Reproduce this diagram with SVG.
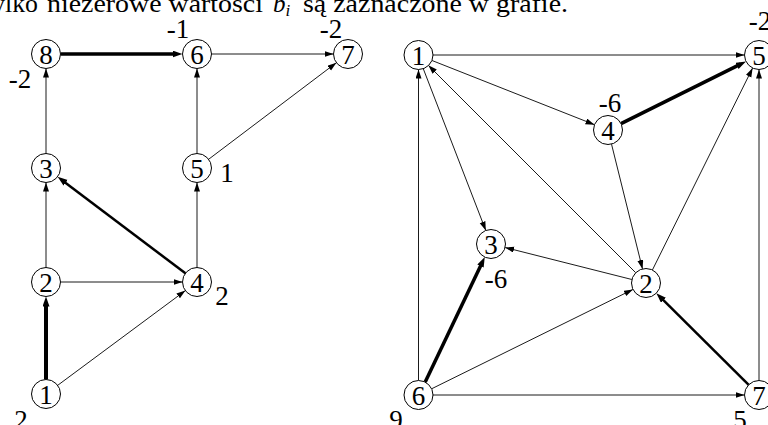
<svg xmlns="http://www.w3.org/2000/svg" width="768" height="425" viewBox="0 0 768 425">
<style>
.bg{fill:#fff}
.n circle{fill:#fff;stroke:#000;stroke-width:1}
.e{stroke:#000;stroke-width:0.9;fill:none;marker-end:url(#ah)}
.w{stroke:#000;fill:none;marker-end:url(#ahw)}
</style>
<defs>
<marker id="ah" markerUnits="userSpaceOnUse" markerWidth="10" markerHeight="7" refX="9" refY="3" orient="auto">
<path d="M0,0 L9,3 L0,6 z" fill="#000"/>
</marker>
<marker id="ahw" markerUnits="userSpaceOnUse" markerWidth="11" markerHeight="8" refX="4" refY="3.5" orient="auto">
<path d="M0,0 L10,3.5 L0,7 z" fill="#000"/>
</marker>
</defs>
<rect class="bg" x="0" y="0" width="768" height="425"/>
<g id="caption" font-family="Liberation Serif, serif" font-size="25" fill="#000">
<text x="-15" y="11.5" textLength="53" lengthAdjust="spacingAndGlyphs">tylko</text>
<text x="47" y="11.5" textLength="216" lengthAdjust="spacingAndGlyphs">niezerowe wartości</text>
<text x="273" y="11.5" font-style="italic">b<tspan font-size="17" dy="4">i</tspan></text>
<text x="303" y="11.5" textLength="265" lengthAdjust="spacingAndGlyphs">są zaznaczone w grafie.</text>
</g>
<g id="connectors">
<line class="w" stroke-width="3.5" x1="60.5" y1="54" x2="176.5" y2="54"/>
<line class="e" x1="211.5" y1="54" x2="333.5" y2="54"/>
<line class="e" stroke-width="0.8" x1="208.6" y1="159.3" x2="336.4" y2="62.7"/>
<line class="e" x1="197" y1="153.5" x2="197" y2="68.5"/>
<line class="e" x1="46" y1="153.5" x2="46" y2="68.5"/>
<line class="e" x1="197" y1="267.5" x2="197" y2="182.5"/>
<line class="w" stroke-width="2.5" x1="185.4" y1="273.3" x2="62.4" y2="180.4"/>
<line class="e" x1="46" y1="267.5" x2="46" y2="182.5"/>
<line class="e" x1="60.5" y1="282" x2="182.5" y2="282"/>
<line class="w" stroke-width="4" x1="46" y1="379.5" x2="46" y2="302.5"/>
<line class="e" stroke-width="0.8" x1="57.6" y1="385.4" x2="185.4" y2="290.6"/>

<line class="e" x1="433" y1="55" x2="744.5" y2="55"/>
<line class="e" x1="431.5" y1="60.3" x2="594.5" y2="124.7"/>
<line class="e" x1="423.2" y1="68.5" x2="485.8" y2="230.5"/>
<line class="e" stroke-width="0.8" x1="635.7" y1="272.7" x2="428.3" y2="65.3"/>
<line class="e" x1="611.5" y1="144.1" x2="642.5" y2="268.9"/>
<line class="w" stroke-width="3.5" x1="621" y1="123.6" x2="740.6" y2="64.1"/>
<line class="e" stroke-width="0.8" x1="652.4" y1="270" x2="752.6" y2="68"/>
<line class="e" x1="631.9" y1="279.5" x2="505.1" y2="247.5"/>
<line class="e" x1="418.5" y1="380.5" x2="418.5" y2="69.5"/>
<line class="w" stroke-width="3.5" x1="425.2" y1="381.9" x2="482.2" y2="262.5"/>
<line class="e" stroke-width="0.8" x1="432" y1="388.6" x2="633" y2="289.4"/>
<line class="e" x1="433" y1="395" x2="744.5" y2="395"/>
<line class="w" stroke-width="2.5" x1="748.7" y1="384.8" x2="660.6" y2="297.4"/>
<line class="e" x1="759" y1="380.5" x2="759" y2="69.5"/>
</g>
<g font-family="Liberation Serif, serif" font-size="27" text-anchor="middle" fill="#000">
<g id="L8" class="n"><circle cx="46" cy="54" r="14.5"/><text x="46" y="63.5">8</text><text x="20" y="88">-2</text></g>
<g id="L6" class="n"><circle cx="197" cy="54" r="14.5"/><text x="197" y="63.5">6</text><text x="178" y="38">-1</text></g>
<g id="L7" class="n"><circle cx="348" cy="54" r="14.5"/><text x="348" y="63.5">7</text><text x="331" y="38">-2</text></g>
<g id="L3" class="n"><circle cx="46" cy="168" r="14.5"/><text x="46" y="177.5">3</text></g>
<g id="L5" class="n"><circle cx="197" cy="168" r="14.5"/><text x="197" y="177.5">5</text><text x="227" y="182">1</text></g>
<g id="L2" class="n"><circle cx="46" cy="282" r="14.5"/><text x="46" y="291.5">2</text></g>
<g id="L4" class="n"><circle cx="197" cy="282" r="14.5"/><text x="197" y="291.5">4</text><text x="222" y="305">2</text></g>
<g id="L1" class="n"><circle cx="46" cy="394" r="14.5"/><text x="46" y="403.5">1</text><text x="21" y="429">2</text></g>
<g id="R1" class="n"><circle cx="418.5" cy="55" r="14.5"/><text x="418.5" y="64.5">1</text></g>
<g id="R5" class="n"><circle cx="759" cy="55" r="14.5"/><text x="759" y="64.5">5</text><text x="760" y="30">-2</text></g>
<g id="R4" class="n"><circle cx="608" cy="130" r="14.5"/><text x="608" y="139.5">4</text><text x="610" y="112">-6</text></g>
<g id="R3" class="n"><circle cx="491" cy="244" r="14.5"/><text x="491" y="253.5">3</text><text x="496" y="288">-6</text></g>
<g id="R2" class="n"><circle cx="646" cy="283" r="14.5"/><text x="646" y="292.5">2</text></g>
<g id="R6" class="n"><circle cx="418.5" cy="395" r="14.5"/><text x="418.5" y="404.5">6</text><text x="396" y="429">9</text></g>
<g id="R7" class="n"><circle cx="759" cy="395" r="14.5"/><text x="759" y="404.5">7</text><text x="740" y="429">5</text></g>
</g>
</svg>
